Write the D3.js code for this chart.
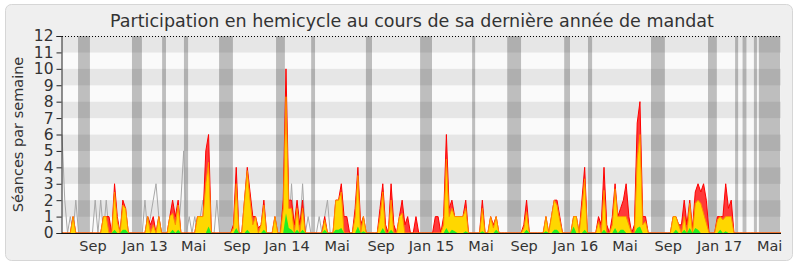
<!DOCTYPE html>
<html><head><meta charset="utf-8">
<script src="https://cdn.jsdelivr.net/npm/d3@7"></script>
<style>body{margin:0;background:#fff}svg{display:block}text{font-family:"DejaVu Sans",Verdana,sans-serif;fill:#333}</style>
</head><body><svg id="c" width="800" height="267"></svg>
<script>
const title = "Participation en hemicycle au cours de sa dernière année de mandat";
const yLabel = "Séances par semaine";
const yTicks = [0,1,2,3,4,5,6,7,8,9,10,11,12];
const xTickLabels = ["Sep","Jan 13","Mai","Sep","Jan 14","Mai","Sep","Jan 15","Mai","Sep","Jan 16","Mai","Sep","Jan 17","Mai"];
const xTickWeeks = [11.2,30.0,47.6,63.3,81.4,99.5,115.4,133.6,151.5,167.1,185.7,203.6,219.2,237.8,255.9];
// vacation periods (week index start, end)
const vacStart = [5.8,25.3,36.2,44.1,56.8,77.4,90.1,109.9,129.5,148.3,161.0,181.6,190.2,213.0,233.6,243.4,246.1,250.2,252.0];
const vacEnd   = [10.1,28.9,37.6,45.6,61.8,80.6,91.5,112.1,133.8,149.4,166.0,183.7,191.7,218.0,236.8,244.5,247.5,251.3,259.7];
// weekly series (weeks 0..260)
const presence = [
0,0,0,0,1,0,0,0,0,0,
0,0,0,0,0,1,1,1,0,3,
1,0,2,1.5,0,0,0,0,0,0,
0,1,0.5,1,0,1,0,0,0,1,
2,1,2,0,0,0,0,0,0,1,
1,1,5,6,0,0,0,0,0,0,
0,0,0.5,4,0,0,2,4,2.5,1,
1,0.3,0.5,2,0,0,0,1,0,0,
2,10,2,2,0.5,2,0.5,2,0,0,
0,0,0,0,0,1,0,0,0,2,
2,3,1,1,0,0,1.5,4,0.5,1,
0,0,0,0,0,1.5,3,0.5,0,3,
0.5,0,1,2,0.5,1,0,0,1,0,
0,0,0,0,0,1,1,0,1,6,
1.5,2,1,1,1,1,2,0,0,0,
0,0,2,0,0,1,0.5,1,0,0,
0,0,0,0,0,0,0,0.5,2,0,
0,0,0,0,0,1,0,1,2,2,
1,0,0,0,0,1,1,0,2,4,
0,0,0,0,1,0.5,4,0.5,0,1,
3,1,1.5,2,3,1,0,0.5,6.7,8,
1,1,0,0,0,0,0,0,0,0,
0,1,1,0.5,0.5,2,0.5,2,0.3,2.5,
3,2.5,3,2,0,0,0,1,1,1,
3,1.5,2,0,0,0,0,0,0,0,
0,0,0,0,0,0,0,0,0,0,0];
const participation = [
0,0,0,0,1,0,0,0,0,0,
0,0,0,0,0,1,1,0,0,2.5,
0.7,0,1.7,1.5,0,0,0,0,0,0,
0,1,0,0.5,0,1,0,0,0,1,
1.2,0.5,1.7,0,0,0,0,0,0,1,
1,1,3,4.3,0,0,0,0,0,0,
0,0,0.3,3,0,0,2,3.8,2,0.5,
1,0,0.5,1.7,0,0,0,1,0,0,
1.5,8.3,1.5,1.5,0,1.5,0,1.5,0,0,
0,0,0,0,0,0.8,0,0,0,2,
2,2.5,0,0,0,0,1,3.5,0,1,
0,0,0,0,0,1,2.5,0,0,2,
0,0,1,1.2,0,0,0,0,0,0,
0,0,0,0,0,0,0,0,0.5,4.5,
1,1.5,1,1,1,1,1.5,0,0,0,
0,0,1.5,0,0,1,0.3,1,0,0,
0,0,0,0,0,0,0,0.3,1.3,0,
0,0,0,0,0,1,0,1,2,1.7,
0.8,0,0,0,0,1,1,0,1.5,3.3,
0,0,0,0,0.7,0,2.6,0,0,0.5,
2.7,1,1,1,1,0.5,0,0,4.5,6,
0.5,0.7,0,0,0,0,0,0,0,0,
0,1,1,0.5,0,1,0,1.8,0,1.8,
2,1.8,1.2,0.6,0,0,0,0.8,1,0.8,
1,1,1,0,0,0,0,0,0,0,
0,0,0,0,0,0,0,0,0,0,0];
const interventions = [
0,0,0,0,0,0,0,0,0,0,
0,0,0,0,0,0,0,0,0,0.2,
0,0,0.2,0.2,0,0,0,0,0,0,
0,0,0,0,0,0,0,0,0,0,
0.2,0,0.2,0,0,0,0,0,0,0,
0,0,0,0.4,0,0,0,0,0,0,
0,0,0,0.3,0,0,0,0.2,0,0,
0,0,0,0.2,0,0,0,0,0,0,
0,1.2,0.3,0.2,0,0.2,0,0.2,0,0,
0,0,0,0,0,0.2,0,0,0,0.2,
0.2,0.3,0,0,0,0,0,0.4,0,0.1,
0,0,0,0,0,0,0.3,0,0,0.2,
0,0,0,0,0,0,0,0,0,0,
0,0,0,0,0,0,0,0,0,0.3,
0,0.2,0.1,0,0,0,0.1,0,0,0,
0,0,0.1,0,0,0,0,0.2,0,0,
0,0,0,0,0,0,0,0,0.2,0,
0,0,0,0,0,0.1,0,0,0.2,0.2,
0,0,0,0,0,0.4,0,0,0,0.2,
0,0,0,0,0,0,0.2,0,0,0,
0.3,0,0.2,0.2,0,0,0,0,0.3,0.4,
0,0,0,0,0,0,0,0,0,0,
0,0,0.2,0,0,0.2,0,0.3,0,0.3,
0.2,0,0,0,0,0,0,0,0.2,0,
0.1,0,0,0,0,0,0,0,0,0,
0,0,0,0,0,0,0,0,0,0,0];
const median = [
6,2,0,1,0,2,0,0,0,0,
0,0,2,0,2,0,2,0,0,0,
0,0,0,0,0,0,0,0,0,0,
2,0,1,2,3,1,0,0,0,0,
0,0,0,2,5,0,1,0,1,0,
1,2,0,0,0,0,2,0,0,0,
0,0,0,0,0,0,0,0,0,0,
0,0,0,0,0,0,0,0,0,0,
0,0,0,3,0,1,0,3,0,1,
0,0,0,1,0,1,2,0,0,0,
0,0,0,0,0,0,0,0,0,0,
0,0,0,0,0,0,0,0,0,0,
0,0,0,0,0,0,0,0,0,0,
0,0,0,0,0,0,0,0,0,0,
0,0,0,0,0,0,0,0,0,0,
0,0,0,0,0,0,0,0,0,0,
0,0,0,0,0,0,0,0,0,0,
0,0,0,0,0,0,0,0,0,0,
0,0,0,0,0,0,0,0,0,0,
0,0,0,0,0,0,0,0,0,0,
0,0,0,0,0,0,0,0,0,0,
0,0,0,0,0,0,0,0,0,0,
0,0,0,0,0,0,0,0,0,0,
0,0,0,0,0,0,0,0,0,0,
0,0,0,0,0,0,0,0,0,0,
0,0,0,0,0,0,0,0,0,0,0];

const svg = d3.select("#c");
const W = 800, H = 267;
const m = {l:62, r:19, t:36, b:34};
const x = d3.scaleLinear().domain([0, 260]).range([m.l, W - m.r]);
const y = d3.scaleLinear().domain([0, 12]).range([H - m.b, m.t]);

// panel
svg.append("rect").attr("x",5.5).attr("y",4.5).attr("width",787).attr("height",256).attr("rx",6)
  .attr("fill","#efefef").attr("stroke","#d6d6d6");

svg.append("text").attr("x",412).attr("y",27).attr("text-anchor","middle")
  .style("font-size","17.5px").text(title);

// stripes
const g = svg.append("g");
g.selectAll("rect.stripe").data(yTicks.slice(0,-1)).join("rect")
  .attr("x", x(0)).attr("width", x(260)-x(0))
  .attr("y", d => y(d+1)).attr("height", d => y(d)-y(d+1))
  .attr("fill", d => d % 2 === 1 ? "#e6e6e6" : "#fafafa");

// vacations
g.selectAll("rect.vac").data(vacStart).join("rect")
  .attr("x", d => x(d)).attr("width", (d,i) => x(vacEnd[i]) - x(d))
  .attr("y", y(12)).attr("height", y(0)-y(12))
  .attr("fill","#000").attr("fill-opacity",0.24);

const line = d3.line().x((d,i)=>x(i)).y(d=>y(d));
const area = d3.area().x((d,i)=>x(i)).y0(y(0)).y1(d=>y(d));

g.append("path").datum(median).attr("d", line).attr("fill","none").attr("stroke","#a8a8a8").attr("stroke-width",1);
g.append("path").datum(presence).attr("d", area).attr("fill","#ff3a3a");
g.append("path").datum(presence).attr("d", line).attr("fill","none").attr("stroke","#ff0000").attr("stroke-width",1);
g.append("path").datum(participation).attr("d", area).attr("fill","#ffd700");
g.append("path").datum(participation).attr("d", line).attr("fill","none").attr("stroke","#ff8c00").attr("stroke-width",1);
g.append("path").datum(interventions).attr("d", area).attr("fill","#22ee22");

// top dotted line
svg.append("line").attr("x1",x(0)).attr("x2",x(260)).attr("y1",y(12)+0.5).attr("y2",y(12)+0.5)
  .attr("stroke","#000").attr("stroke-dasharray","1,2");

// y axis
const ya = svg.append("g").attr("transform",`translate(${x(0)-0.5},0)`)
  .call(d3.axisLeft(y).tickValues(yTicks).tickSize(5).tickPadding(3).tickFormat(d3.format("d")));
ya.select(".domain").attr("stroke","#222");
ya.selectAll(".tick line").attr("stroke","#222");
ya.selectAll("text").style("font-size","15.5px").attr("fill","#333").style("font-family","DejaVu Sans");

// x axis
svg.append("line").attr("x1",x(0)-1).attr("x2",x(260)).attr("y1",y(0)+0.5).attr("y2",y(0)+0.5).attr("stroke","#111");
svg.append("g").selectAll("text").data(xTickWeeks).join("text")
  .attr("x", d => x(d)).attr("y", 251).attr("text-anchor","middle")
  .style("font-size","14.5px").text((d,i)=>xTickLabels[i]);

svg.append("text").attr("transform",`translate(23,${(y(0)+y(12))/2}) rotate(-90)`)
  .attr("text-anchor","middle").style("font-size","14.5px").text(yLabel);
</script></body></html>
